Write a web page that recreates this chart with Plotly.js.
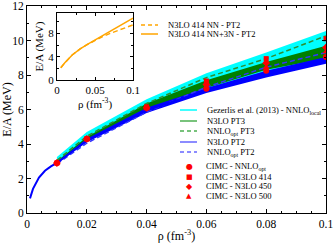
<!DOCTYPE html>
<html><head><meta charset="utf-8">
<script src="https://cdn.plot.ly/plotly-3.0.1.min.js"></script>
<style>html,body{margin:0;padding:0;background:#fff}#c{width:333px;height:243px}</style>
</head><body><div id="c"></div>
<script>
// ---- data ----
const rho = [0.01, 0.02, 0.04, 0.06, 0.08, 0.1];
const gezLow = [2.95, 4.2, 5.95, 7.2, 8.2, 9.0];
const gezHigh = [3.25, 4.7, 6.6, 8.1, 9.3, 10.55];
const n3pt3Low = [2.9, 4.25, 6.0, 7.25, 8.3, 8.95];
const n3pt3High = [3.0, 4.4, 6.35, 7.7, 8.75, 9.7];
const n3pt2Low = [2.85, 4.1, 5.8, 6.95, 7.85, 8.65];
const n3pt2High = [2.95, 4.3, 6.1, 7.25, 8.25, 9.05];
const nnloPT3 = [3.05, 4.45, 6.35, 7.85, 8.95, 10.27];
const nnloPT2 = [2.85, 4.05, 5.85, 7.3, 8.45, 9.3];
const rhoLine = [0.001, 0.002, 0.004, 0.006, 0.008, 0.01, 0.02, 0.04, 0.06, 0.08, 0.1];
const n3pt2Line = [0.85, 1.4, 2.05, 2.45, 2.7, 2.9, 4.2, 5.95, 7.1, 8.0, 8.8];
const cimcNNLO = [2.9, 4.3, 6.1, 7.2, 8.25, 9.05];
const cimc414 = [2.9, 4.3, 6.15, 7.65, 8.95, 10.1];
const cimc450 = [2.9, 4.3, 6.1, 7.45, 8.7, 9.6];
const cimc500 = [2.9, 4.25, 6.05, 7.3, 8.45, 9.35];
// inset
const rhoIn = [0.005, 0.01, 0.02, 0.03, 0.04, 0.05, 0.06, 0.07, 0.08, 0.09, 0.1];
const nn3nPT2 = [2.1, 2.9, 4.3, 5.3, 6.1, 6.85, 7.6, 8.35, 9.05, 9.8, 10.6];
const nnPT2 = [2.1, 2.9, 4.3, 5.3, 6.1, 6.8, 7.45, 8.0, 8.5, 9.0, 9.45];

function band(lo, hi, color) {
  return {x: rho.concat(rho.slice().reverse()), y: hi.concat(lo.slice().reverse()),
    type: 'scatter', mode: 'lines', fill: 'toself', fillcolor: color,
    line: {width: 0, color: color}, hoverinfo: 'skip', showlegend: false};
}
const red = '#ff0000';
function pts(y, sym, sz) {
  return {x: rho, y: y, type: 'scatter', mode: 'markers', showlegend: false,
    marker: {symbol: sym, size: sz, color: red}};
}
const traces = [
  band(gezLow, gezHigh, '#00ffff'),
  band(n3pt3Low, n3pt3High, '#008000'),
  band(n3pt2Low, n3pt2High, '#0000ff'),
  {x: rho, y: nnloPT3, type: 'scatter', mode: 'lines', showlegend: false, line: {color: '#2f8f2f', width: 1.5, dash: '5px,3px'}},
  {x: rho, y: nnloPT2, type: 'scatter', mode: 'lines', showlegend: false, line: {color: '#3333ff', width: 1.5, dash: '5px,3px'}},
  {x: rhoLine, y: n3pt2Line, type: 'scatter', mode: 'lines', showlegend: false, line: {color: '#0000ff', width: 2}},
  pts(cimcNNLO, 'circle', 6),
  pts(cimc414, 'square', 5),
  pts(cimc450, 'diamond', 6),
  pts(cimc500, 'triangle-up', 6),
  {x: rhoIn, y: nnPT2, xaxis: 'x2', yaxis: 'y2', type: 'scatter', mode: 'lines', showlegend: false, line: {color: '#ffa500', width: 1.5, dash: '5px,3px'}},
  {x: rhoIn, y: nn3nPT2, xaxis: 'x2', yaxis: 'y2', type: 'scatter', mode: 'lines', showlegend: false, line: {color: '#ffa500', width: 1.5}}
];

// legend helpers (pixel -> paper)
const L = 27, R = 326, T = 6, B = 213;
const px = v => (v - L) / (R - L);
const py = v => (B - v) / (B - T);
const serif = 'Liberation Serif, Times New Roman, serif';
const shapes = [], ann = [];
function legLine(x0, x1, y, color, dash, label) {
  shapes.push({type: 'line', xref: 'paper', yref: 'paper', x0: px(x0), x1: px(x1), y0: py(y), y1: py(y),
    line: {color: color, width: 1.5, dash: dash}});
  ann.push({xref: 'paper', yref: 'paper', x: px(x1 + 8), y: py(y), xanchor: 'left', yanchor: 'middle',
    text: label, showarrow: false, font: {family: serif, size: 8.5, color: '#000'}});
}
function legMark(x, y, sym, size, label) {
  ann.push({xref: 'paper', yref: 'paper', x: px(x), y: py(y), xanchor: 'center', yanchor: 'middle',
    text: sym, showarrow: false, font: {family: 'DejaVu Sans', size: size, color: red}});
  ann.push({xref: 'paper', yref: 'paper', x: px(204), y: py(y), xanchor: 'left', yanchor: 'middle',
    text: label, showarrow: false, font: {family: serif, size: 8.5, color: '#000'}});
}
legLine(141, 158, 25, '#ffa500', '4px,3px', 'N3LO 414 NN - PT2');
legLine(141, 158, 34, '#ffa500', 'solid', 'N3LO 414 NN+3N - PT2');
legLine(180, 197, 110, '#00ffff', 'solid', 'Gezerlis et al. (2013) - NNLO<sub>local</sub>');
legLine(180, 197, 121, '#4caf50', 'solid', 'N3LO PT3');
legLine(180, 197, 131, '#4caf50', '4px,3px', 'NNLO<sub>opt</sub> PT3');
legLine(180, 197, 142, '#6666ff', 'solid', 'N3LO PT2');
legLine(180, 197, 152, '#6666ff', '4px,3px', 'NNLO<sub>opt</sub> PT2');
legMark(189, 166, '●', 8, 'CIMC - NNLO<sub>opt</sub>');
legMark(189, 177, '■', 7, 'CIMC - N3LO 414');
legMark(189, 186, '◆', 8, 'CIMC - N3LO 450');
legMark(189, 196, '▲', 7, 'CIMC - N3LO 500');

const ax = {showline: true, linecolor: '#000', linewidth: 1, mirror: 'ticks', ticks: 'inside',
  ticklen: 4, tickcolor: '#000', showgrid: false, zeroline: false, ticklabeloverflow: 'allow',
  tickfont: {family: serif, size: 11.5, color: '#000'}};
const layout = {
  width: 333, height: 243, margin: {l: 27, r: 7, t: 6, b: 30},
  paper_bgcolor: '#fff', plot_bgcolor: '#fff', showlegend: false,
  xaxis: Object.assign({}, ax, {range: [0, 0.1], tickvals: [0, 0.02, 0.04, 0.06, 0.08, 0.1],
    ticktext: ['0', '0.02', '0.04', '0.06', '0.08', '0.1'],
    minor: {dtick: 0.005, ticks: 'inside', ticklen: 2, tickcolor: '#000'},
    title: {text: 'ρ (fm<sup>-3</sup>)', font: {family: serif, size: 12, color: '#000'}, standoff: 4}}),
  yaxis: Object.assign({}, ax, {range: [0, 12], dtick: 2,
    minor: {dtick: 1, ticks: 'inside', ticklen: 2, tickcolor: '#000'},
    title: {text: 'E/A (MeV)', font: {family: serif, size: 12, color: '#000'}, standoff: 2}}),
  xaxis2: Object.assign({}, ax, {domain: [px(57), px(133)], anchor: 'y2', range: [0, 0.1],
    tickvals: [0, 0.05, 0.1], ticktext: ['0', '0.05', '0.1'], ticklen: 3,
    minor: {dtick: 0.025, ticks: 'inside', ticklen: 2, tickcolor: '#000'},
    tickfont: {family: serif, size: 11, color: '#000'},
    title: {text: 'ρ (fm<sup>-3</sup>)', font: {family: serif, size: 11, color: '#000'}, standoff: 2}}),
  yaxis2: Object.assign({}, ax, {domain: [py(80), py(13)], anchor: 'x2', range: [0, 11.5],
    tickvals: [0, 4, 8], ticklen: 3,
    minor: {dtick: 2, ticks: 'inside', ticklen: 2, tickcolor: '#000'},
    tickfont: {family: serif, size: 11, color: '#000'},
    title: {text: 'E/A (MeV)', font: {family: serif, size: 11, color: '#000'}, standoff: 2}}),
  shapes: shapes, annotations: ann
};
Plotly.newPlot('c', traces, layout, {displayModeBar: false, staticPlot: true});
</script></body></html>
